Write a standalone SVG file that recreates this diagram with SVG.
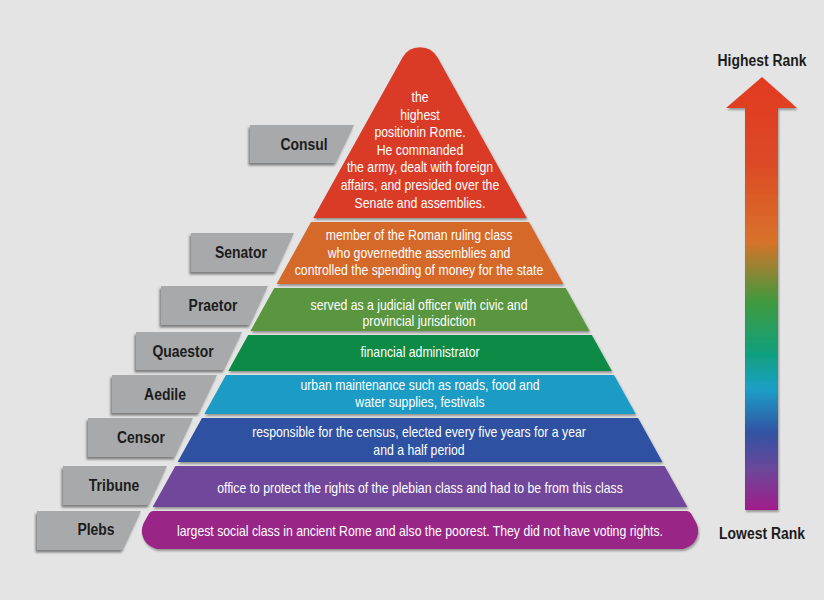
<svg xmlns="http://www.w3.org/2000/svg" width="824" height="600" viewBox="0 0 824 600">
<style>
.b{font-family:"Liberation Sans",Arial,sans-serif;font-size:14.6px;fill:#ffffff;text-anchor:middle}
.l{font-family:"Liberation Sans",Arial,sans-serif;font-size:17px;font-weight:bold;fill:#1c1c1c;text-anchor:middle}
.box{fill:#a8a9ab}
</style>
<defs>
<filter id="sh" x="-10%" y="-20%" width="120%" height="150%">
<feDropShadow dx="1" dy="2" stdDeviation="1" flood-color="#000" flood-opacity="0.35"/>
</filter>
<filter id="shl" x="-10%" y="-20%" width="120%" height="150%">
<feDropShadow dx="-1.5" dy="2.5" stdDeviation="1" flood-color="#000" flood-opacity="0.45"/>
</filter>
<linearGradient id="ag" x1="0" y1="77" x2="0" y2="510" gradientUnits="userSpaceOnUse">
<stop offset="0" stop-color="#e23a22"/>
<stop offset="0.2" stop-color="#dc4a26"/>
<stop offset="0.38" stop-color="#d8722a"/>
<stop offset="0.52" stop-color="#3f9a3e"/>
<stop offset="0.64" stop-color="#10a07e"/>
<stop offset="0.72" stop-color="#1c9fc6"/>
<stop offset="0.82" stop-color="#3154a4"/>
<stop offset="0.91" stop-color="#6e4699"/>
<stop offset="1" stop-color="#a01d8a"/>
</linearGradient>
</defs>
<rect x="0" y="0" width="824" height="600" fill="#e4e4e4"/>

<g id="connectors"></g>

<g id="consul">
<path d="M313.25 218 L402.5 57.5 A20 20 0 0 1 437.5 57.5 L526.75 218 Z" fill="#da3a28" filter="url(#sh)"/>
<text class="b" transform="translate(420 102) scale(0.84 1)">the</text>
<text class="b" transform="translate(420 119.5) scale(0.84 1)">highest</text>
<text class="b" transform="translate(420 137) scale(0.84 1)">positionin Rome.</text>
<text class="b" transform="translate(420 154.5) scale(0.84 1)">He commanded</text>
<text class="b" transform="translate(420 172) scale(0.84 1)">the army, dealt with foreign</text>
<text class="b" transform="translate(420 189.5) scale(0.84 1)">affairs, and presided over the</text>
<text class="b" transform="translate(420 207.5) scale(0.84 1)">Senate and assemblies.</text>
</g>

<g id="senator">
<polygon points="311,222 529,222 563.4,284 276.6,284" fill="#d4692b" filter="url(#sh)"/>
<text class="b" transform="translate(419 240) scale(0.84 1)">member of the Roman ruling class</text>
<text class="b" transform="translate(419 257.5) scale(0.84 1)">who governedthe assemblies and</text>
<text class="b" transform="translate(419 275) scale(0.84 1)">controlled the spending of money for the state</text>
</g>

<g id="praetor">
<polygon points="274.3,288 565.7,288 589.6,331 250.4,331" fill="#5a963f" filter="url(#sh)"/>
<text class="b" transform="translate(419 309.5) scale(0.84 1)">served as a judicial officer with civic and</text>
<text class="b" transform="translate(419 326) scale(0.84 1)">provincial jurisdiction</text>
</g>

<g id="quaestor">
<polygon points="248.2,335 591.8,335 611.8,371 228.2,371" fill="#0c8a45" filter="url(#sh)"/>
<text class="b" transform="translate(420 357) scale(0.84 1)">financial administrator</text>
</g>

<g id="aedile">
<polygon points="226,375 614,375 635.7,414 204.3,414" fill="#1a9bc4" filter="url(#sh)"/>
<text class="b" transform="translate(420 389.5) scale(0.84 1)">urban maintenance such as roads, food and</text>
<text class="b" transform="translate(420 407) scale(0.84 1)">water supplies, festivals</text>
</g>

<g id="censor">
<polygon points="202,418 638,418 662.4,462 177.6,462" fill="#2e51a2" filter="url(#sh)"/>
<text class="b" transform="translate(419 437) scale(0.84 1)">responsible for the census, elected every five years for a year</text>
<text class="b" transform="translate(419 454.5) scale(0.84 1)">and a half period</text>
</g>

<g id="tribune">
<polygon points="175.4,466 664.6,466 687.4,507 152.6,507" fill="#71479b" filter="url(#sh)"/>
<text class="b" transform="translate(420 492.5) scale(0.84 1)">office to protect the rights of the plebian class and had to be from this class</text>
</g>

<g id="plebs">
<path d="M153 511 L687 511 Q689.7 511 691 513.5 L695.9 522.3 A18 18 0 0 1 680.2 549 L159.8 549 A18 18 0 0 1 144.1 522.3 L149 513.5 Q150.3 511 153 511 Z" fill="#992687" filter="url(#sh)"/>
<text class="b" transform="translate(420 535.5) scale(0.84 1)">largest social class in ancient Rome and also the poorest. They did not have voting rights.</text>
</g>

<g id="label-consul">
<polygon class="box" points="250,125 354,125 336,163 250,163" filter="url(#shl)"/>
<text class="l" transform="translate(304 150) scale(0.82 1)">Consul</text>
</g>
<g id="label-senator">
<polygon class="box" points="191,233 294,233 276,272 191,272" filter="url(#shl)"/>
<text class="l" transform="translate(241 257.5) scale(0.82 1)">Senator</text>
</g>
<g id="label-praetor">
<polygon class="box" points="161,286 268,286 250,325 161,325" filter="url(#shl)"/>
<text class="l" transform="translate(213 310.5) scale(0.82 1)">Praetor</text>
</g>
<g id="label-quaestor">
<polygon class="box" points="136,332 242,332 224,370 136,370" filter="url(#shl)"/>
<text class="l" transform="translate(183 357) scale(0.82 1)">Quaestor</text>
</g>
<g id="label-aedile">
<polygon class="box" points="112,375 217,375 199,413 112,413" filter="url(#shl)"/>
<text class="l" transform="translate(165 399.5) scale(0.82 1)">Aedile</text>
</g>
<g id="label-censor">
<polygon class="box" points="88,418 193,418 175,457 88,457" filter="url(#shl)"/>
<text class="l" transform="translate(141 443) scale(0.82 1)">Censor</text>
</g>
<g id="label-tribune">
<polygon class="box" points="63,466 167,466 149,505 63,505" filter="url(#shl)"/>
<text class="l" transform="translate(114 490.5) scale(0.82 1)">Tribune</text>
</g>
<g id="label-plebs">
<polygon class="box" points="37,511 141,511 123,550 37,550" filter="url(#shl)"/>
<text class="l" transform="translate(96 534.5) scale(0.82 1)">Plebs</text>
</g>

<g id="rank-arrow">
<polygon points="762,77 797,108 778,108 778,510 745,510 745,108 726,108" fill="url(#ag)" filter="url(#sh)"/>
<text class="l" transform="translate(762 65.5) scale(0.82 1)">Highest Rank</text>
<text class="l" transform="translate(762 538.5) scale(0.82 1)">Lowest Rank</text>
</g>
</svg>
